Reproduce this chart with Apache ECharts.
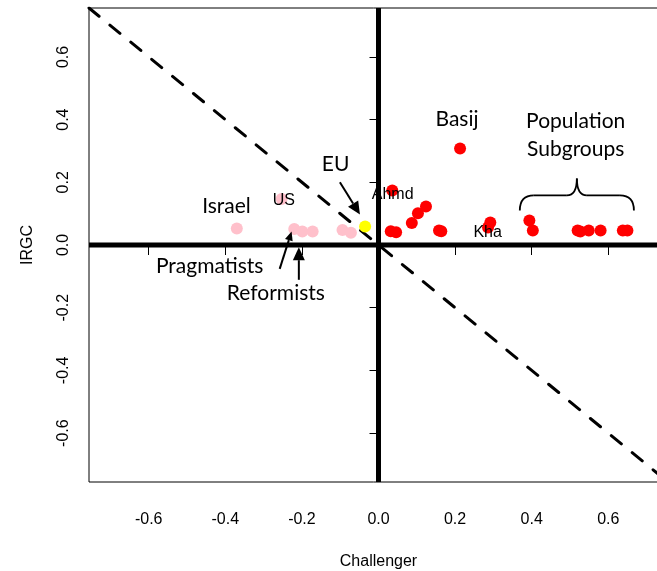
<!DOCTYPE html>
<html>
<head>
<meta charset="utf-8">
<script src="https://cdn.jsdelivr.net/npm/echarts@6/dist/echarts.min.js"></script>
<style>html,body{margin:0;padding:0;background:#fff}#c{width:657px;height:571px}</style>
</head>
<body>
<div id="c"></div>
<script>
// ---- data ----
const xTicks = [-0.6, -0.4, -0.2, 0.0, 0.2, 0.4, 0.6];
const yTicks = [-0.6, -0.4, -0.2, 0.0, 0.2, 0.4, 0.6];
const xRange = [-0.756, 0.756];
const yRange = [-0.756, 0.756];
// pink: Israel, US, Pragmatists/Reformists, others
const pinkX = [-0.370, -0.253, -0.220, -0.199, -0.172, -0.094, -0.072];
const pinkY = [0.053, 0.147, 0.051, 0.043, 0.043, 0.048, 0.039];
// yellow: EU
const yellowX = [-0.035];
const yellowY = [0.059];
// red: Basij, Ahmd, Kha, population subgroups etc.
const redX = [0.213, 0.036, 0.032, 0.046, 0.087, 0.103, 0.124, 0.158, 0.164, 0.292, 0.286, 0.394, 0.403, 0.520, 0.527, 0.549, 0.580, 0.638, 0.650];
const redY = [0.308, 0.174, 0.044, 0.041, 0.070, 0.101, 0.123, 0.046, 0.044, 0.072, 0.056, 0.078, 0.046, 0.046, 0.043, 0.046, 0.046, 0.046, 0.046];

// annotation texts (data coordinates)
const notes = [
  {t: 'Israel', p: [-0.397, 0.124], f: 'lato'},
  {t: 'US', p: [-0.247, 0.141], f: 'arial'},
  {t: 'EU', p: [-0.112, 0.257], f: 'lato'},
  {t: 'Ahmd', p: [0.037, 0.161], f: 'arial'},
  {t: 'Kha', p: [0.285, 0.040], f: 'arial'},
  {t: 'Basij', p: [0.205, 0.400], f: 'lato'},
  {t: 'Population', p: [0.515, 0.396], f: 'lato'},
  {t: 'Subgroups', p: [0.515, 0.305], f: 'lato'},
  {t: 'Pragmatists', p: [-0.441, -0.067], f: 'lato'},
  {t: 'Reformists', p: [-0.268, -0.153], f: 'lato'}
];
const arrows = [
  {from: [-0.1008, 0.200], to: [-0.0484, 0.097], L: 13, W: 6},
  {from: [-0.258, -0.076], to: [-0.227, 0.043], L: 9, W: 4},
  {from: [-0.208, -0.111], to: [-0.208, -0.007], L: 13, W: 6}
];
const brace = {x1: 0.369, x2: 0.667, yEnd: 0.110, yBar: 0.158, yTip: 0.212};

const zip = (a, b) => a.map((v, i) => [v, b[i]]);
const fmt = v => v.toFixed(1);

const chart = echarts.init(document.getElementById('c'), null, {renderer: 'canvas'});
const axisFont = 'Liberation Sans';

const option = {
  animation: false,
  backgroundColor: '#fff',
  grid: {left: 89, top: 8, width: 579, height: 474, show: true, borderColor: '#000', borderWidth: 1,
    containLabel: false, outerBoundsMode: 'none'},
  xAxis: {
    type: 'value', min: xRange[0], max: xRange[1],
    name: 'Challenger', nameLocation: 'middle', nameGap: 72,
    nameTextStyle: {fontFamily: axisFont, fontSize: 16, color: '#000'},
    axisLine: {show: false},
    splitLine: {show: false},
    axisTick: {show: true, inside: false, length: 10, lineStyle: {color: '#000', width: 1}, customValues: xTicks},
    axisLabel: {show: true, margin: 30, fontFamily: axisFont, fontSize: 16, color: '#000', customValues: xTicks, formatter: fmt}
  },
  yAxis: {
    type: 'value', min: yRange[0], max: yRange[1],
    name: 'IRGC', nameLocation: 'middle', nameGap: 53, nameRotate: 90,
    nameTextStyle: {fontFamily: axisFont, fontSize: 16, color: '#000'},
    axisLine: {show: false},
    splitLine: {show: false},
    axisTick: {show: true, inside: false, length: 9, lineStyle: {color: '#000', width: 1}, customValues: yTicks},
    axisLabel: {show: true, rotate: 90, margin: 17, fontFamily: axisFont, fontSize: 16, color: '#000', customValues: yTicks, formatter: fmt}
  },
  series: [
    {type: 'line', data: [[xRange[0], -xRange[0]], [xRange[1], -xRange[1]]], symbol: 'none', silent: true, z: 1,
      lineStyle: {color: '#000', width: 3, type: [13, 14], cap: 'round'}},
    {type: 'line', data: [[xRange[0], 0], [xRange[1], 0]], symbol: 'none', silent: true, z: 1,
      lineStyle: {color: '#000', width: 5}},
    {type: 'line', data: [[0, yRange[0]], [0, yRange[1]]], symbol: 'none', silent: true, z: 1,
      lineStyle: {color: '#000', width: 5}},
    {type: 'scatter', data: zip(pinkX, pinkY), symbol: 'circle', symbolSize: 12, z: 2, itemStyle: {color: '#FFC0CB', opacity: 1}},
    {type: 'scatter', data: zip(yellowX, yellowY), symbol: 'circle', symbolSize: 12, z: 2, itemStyle: {color: '#FFFF00', opacity: 1}},
    {type: 'scatter', data: zip(redX, redY), symbol: 'circle', symbolSize: 12, z: 2, itemStyle: {color: '#FF0000', opacity: 1}}
  ]
};
chart.setOption(option);

const P = p => chart.convertToPixel({gridIndex: 0}, p);
const g = [];
notes.forEach(n => {
  const [x, y] = P(n.p);
  g.push({type: 'text', x, y, z: 10, style: {
    text: n.t, fill: '#000', align: 'center', verticalAlign: 'middle',
    font: n.f === 'lato' ? '21px Lato' : '16px "Liberation Sans"'
  }});
});
arrows.forEach(a => {
  const s = P(a.from), t = P(a.to);
  const dx = t[0] - s[0], dy = t[1] - s[1], len = Math.hypot(dx, dy);
  const ux = dx / len, uy = dy / len, nx = -uy, ny = ux;
  const bx = t[0] - ux * a.L, by = t[1] - uy * a.L;
  g.push({type: 'line', z: 10, shape: {x1: s[0], y1: s[1], x2: bx, y2: by}, style: {stroke: '#000', lineWidth: 2}});
  g.push({type: 'polygon', z: 10, shape: {points: [[t[0], t[1]], [bx + nx * a.W, by + ny * a.W], [bx - nx * a.W, by - ny * a.W]]}, style: {fill: '#000'}});
});
(function () {
  const L = P([brace.x1, brace.yEnd]), R = P([brace.x2, brace.yEnd]);
  const M = P([(brace.x1 + brace.x2) / 2, brace.yTip]);
  const yb = P([0, brace.yBar])[1];
  const ye = L[1], xl = L[0], xr = R[0], xm = M[0], yt = M[1];
  const r = 14, q = 10;
  const st = {stroke: '#000', lineWidth: 1.8, fill: null};
  const curve = (x1, y1, cx, cy, x2, y2) => ({type: 'bezierCurve', z: 10, shape: {x1, y1, x2, y2, cpx1: cx, cpy1: cy}, style: st});
  const seg = (x1, y1, x2, y2) => ({type: 'line', z: 10, shape: {x1, y1, x2, y2}, style: st});
  g.push(curve(xl, ye, xl, yb, xl + r, yb));
  g.push(seg(xl + r, yb, xm - q, yb));
  g.push(curve(xm - q, yb, xm, yb, xm, yt));
  g.push(curve(xm, yt, xm, yb, xm + q, yb));
  g.push(seg(xm + q, yb, xr - r, yb));
  g.push(curve(xr - r, yb, xr, yb, xr, ye));
})();
chart.setOption({graphic: g});
</script>
</body>
</html>
